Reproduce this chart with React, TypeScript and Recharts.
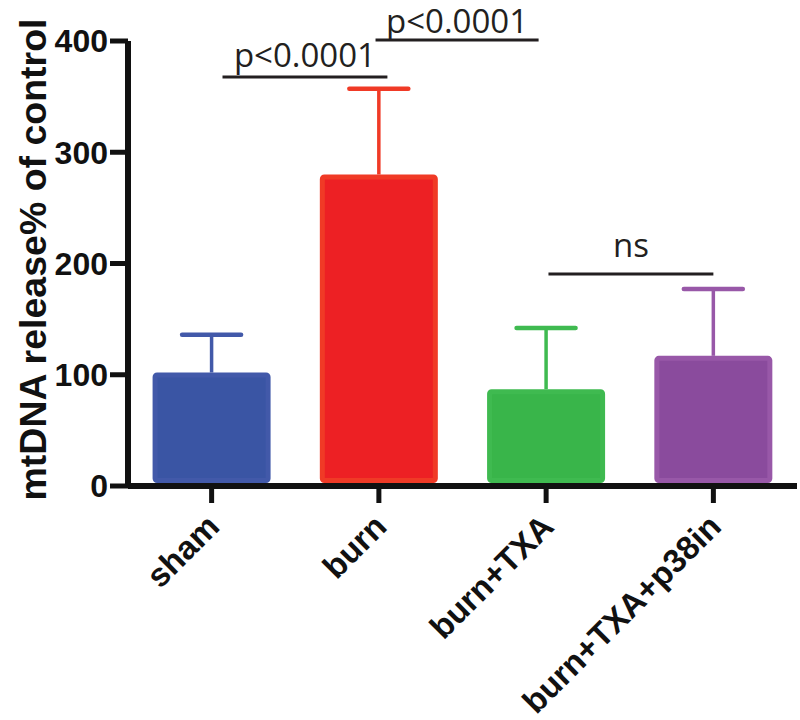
import React from 'react';
import { BarChart, Bar, XAxis, YAxis, ReferenceLine } from 'recharts';

const categories = ['sham', 'burn', 'burn+TXA', 'burn+TXA+p38in'];
const means = [102, 280, 87, 117];
const sems = [34, 77, 55, 60];
const yTicks = [0, 100, 200, 300, 400];
const yLabel = 'mtDNA release% of control';

// significance brackets: from / to category, level in data units
const bracketFrom = ['sham', 'burn', 'burn+TXA'];
const bracketTo = ['burn', 'burn+TXA', 'burn+TXA+p38in'];
const bracketLevel = [367.6, 401, 190.6];
const bracketText = ['p<0.0001', 'p<0.0001', 'ns'];

// styles (fractions of a category step for bracket ends, pixel gaps for text)
const bracketFromShift = [0.065, -0.02, 0.014];
const bracketToShift = [0.051, -0.045, 0];
const bracketLabelGap = [10, 7, 17];
const fills = ['#3A55A4', '#ED2024', '#39B54A', '#8A4B9D'];
const strokes = ['#4259A9', '#F03A26', '#3FBA50', '#9858A8'];

const BOLD_FONT = '"Liberation Sans", Arial, Helvetica, sans-serif';
const LIGHT_FONT = '"Open Sans", "Noto Sans", sans-serif';
const INK = '#111111';

const data = categories.map((name, i) => ({
  name,
  value: means[i],
  err: sems[i],
  fill: fills[i],
  stroke: strokes[i],
}));

const BarShape = (props: any) => {
  const { x, y, width, height, payload } = props;
  const sw = 5;
  const perUnit = height / payload.value;
  const errTop = y - payload.err * perUnit;
  const cx = x + width / 2;
  const capHalf = width * 0.25;
  const bottom = y + height - 3 - sw / 2;
  return (
    <g>
      <rect
        x={x + sw / 2}
        y={y + sw / 2}
        width={width - sw}
        height={bottom - (y + sw / 2)}
        fill={payload.fill}
        stroke={payload.stroke}
        strokeWidth={sw}
        rx={2}
      />
      <line x1={cx} y1={y} x2={cx} y2={errTop} stroke={payload.stroke} strokeWidth={3.5} />
      <line
        x1={cx - capHalf}
        x2={cx + capHalf}
        y1={errTop}
        y2={errTop}
        stroke={payload.stroke}
        strokeWidth={4.5}
        strokeLinecap="round"
      />
    </g>
  );
};

const makeBracket = (i: number) => (props: any) => {
  const { x1, x2, y1 } = props;
  const steps = categories.indexOf(bracketTo[i]) - categories.indexOf(bracketFrom[i]);
  const unit = (x2 - x1) / steps;
  const a = x1 + unit * bracketFromShift[i];
  const b = x2 + unit * bracketToShift[i];
  return (
    <g>
      <line x1={a} x2={b} y1={y1} y2={y1} stroke="#231F20" strokeWidth={3} />
      <text
        x={(a + b) / 2}
        y={y1 - bracketLabelGap[i]}
        textAnchor="middle"
        fontSize={33}
        fill="#231F20"
        fontFamily={LIGHT_FONT}
      >
        {bracketText[i]}
      </text>
    </g>
  );
};

const XTick = (props: any) => {
  const { x, y, payload } = props;
  return (
    <g transform={`translate(${x - 7},${y + 9}) rotate(-45)`}>
      <text
        x={0}
        y={0}
        dy="0.71em"
        textAnchor="end"
        fontSize={33}
        fontWeight="bold"
        fontFamily={BOLD_FONT}
        fill={INK}
      >
        {payload.value}
      </text>
    </g>
  );
};

const YLabel = (props: any) => {
  const vb = props.viewBox || { x: 0, y: 0, width: 0, height: 0 };
  const cx = vb.x + 33;
  const cy = vb.y + vb.height / 2 - 4;
  return (
    <text
      transform={`translate(${cx},${cy}) rotate(-90)`}
      textAnchor="middle"
      dominantBaseline="central"
      fontSize={37.5}
      fontWeight="bold"
      fontFamily={BOLD_FONT}
      fill={INK}
    >
      {yLabel}
    </text>
  );
};

export default function App() {
  return (
    <div style={{ position: 'absolute', left: 0, top: 0, width: 800, height: 720, background: '#fff' }}>
      <BarChart
        width={800}
        height={720}
        data={data}
        margin={{ top: 41, right: 3, left: 0, bottom: 0 }}
        barCategoryGap="14.7%"
      >
        <XAxis
          dataKey="name"
          height={234}
          interval={0}
          tick={<XTick />}
          tickSize={17}
          tickMargin={0}
          axisLine={{ stroke: INK, strokeWidth: 6 }}
          tickLine={{ stroke: INK, strokeWidth: 5 }}
        />
        <YAxis
          width={128}
          domain={[0, 400]}
          ticks={yTicks}
          interval={0}
          tickSize={18}
          tickMargin={2}
          axisLine={{ stroke: INK, strokeWidth: 6 }}
          tickLine={{ stroke: INK, strokeWidth: 5 }}
          tick={{ fontSize: 32, fontWeight: 'bold', fill: INK, fontFamily: BOLD_FONT }}
          label={<YLabel />}
        />
        <Bar dataKey="value" shape={<BarShape />} isAnimationActive={false} />
        {bracketText.map((t, i) => (
          <ReferenceLine
            key={i}
            ifOverflow="visible"
            segment={[
              { x: bracketFrom[i], y: bracketLevel[i] },
              { x: bracketTo[i], y: bracketLevel[i] },
            ]}
            stroke="#231F20"
            strokeWidth={3}
            shape={makeBracket(i)}
          />
        ))}
      </BarChart>
    </div>
  );
}
